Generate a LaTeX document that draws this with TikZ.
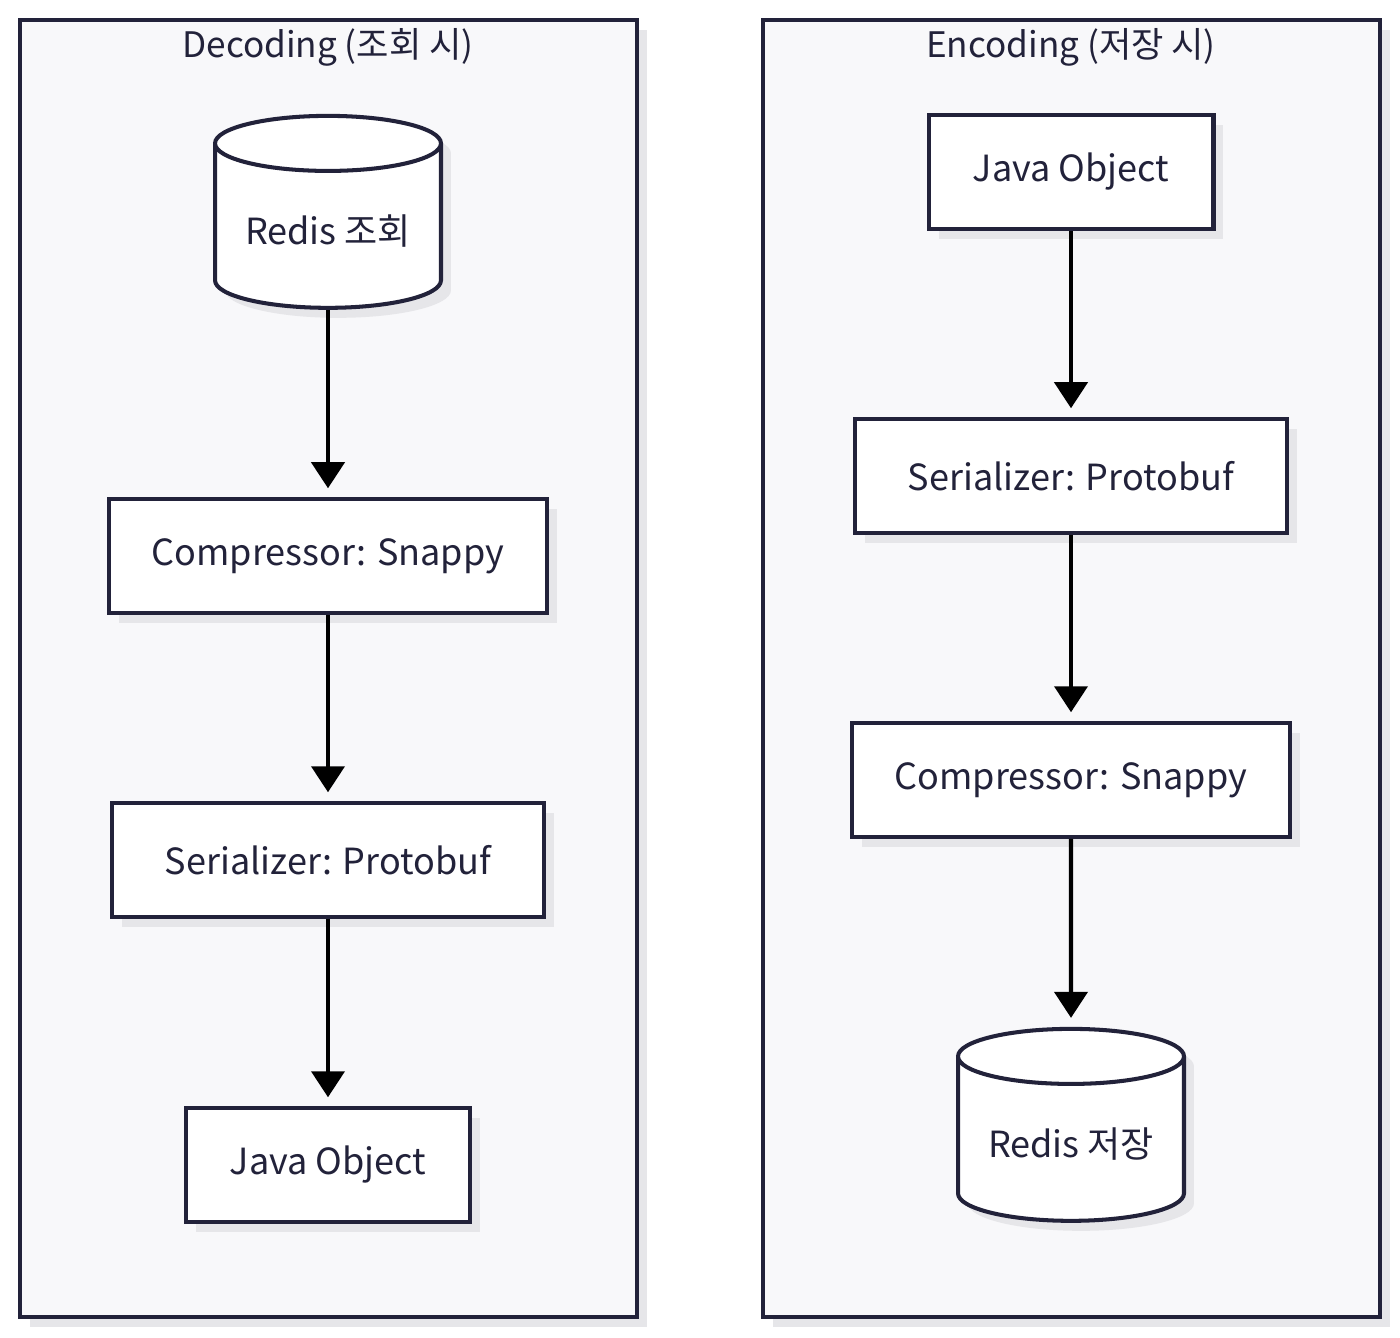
\documentclass[tikz,border=0pt]{standalone}
\usepackage{fontspec}
\setmainfont{Noto Sans CJK KR}
\usetikzlibrary{shapes.geometric,arrows.meta,shadows}

\definecolor{inkblue}{HTML}{22223A}
\definecolor{panelgray}{HTML}{F8F8FA}
\definecolor{shadowgray}{HTML}{E6E6E9}

\tikzset{
  softshadow/.style={drop shadow={shadow xshift=0.2cm, shadow yshift=-0.2cm, fill=shadowgray, opacity=1}},
  panel/.style={draw=inkblue, line width=2.3pt, fill=panelgray, softshadow},
  paneltitle/.style={text=inkblue, font=\fontsize{20}{24}\selectfont},
  stage/.style={rectangle, draw=inkblue, line width=2.3pt, fill=white, softshadow,
    text=inkblue, font=\fontsize{20.5}{24}\selectfont, minimum height=2.27cm},
  store/.style={cylinder, shape border rotate=90, aspect=0.31, draw=inkblue, line width=2.3pt,
    fill=white, softshadow, text=inkblue, font=\fontsize{20.5}{24}\selectfont,
    minimum width=4.52cm, minimum height=3.84cm},
  flow/.style={-{Triangle[length=0.52cm,width=0.66cm]}, line width=2.3pt, shorten >=0.18cm}
}

\begin{document}
\begin{tikzpicture}[x=0.02cm, y=-0.02cm]
  \useasboundingbox (0,0) rectangle (1400,1338);

  % panels
  \draw[panel] (20,20) rectangle (637,1317);
  \draw[panel] (763,20) rectangle (1380,1317);
  \node[paneltitle] (dectitle) at (328,47) {Decoding (조회 시)};
  \node[paneltitle] (enctitle) at (1071,47) {Encoding (저장 시)};

  % decoding
  \node[store] (decredis) at (328,231) {Redis 조회};
  \node[stage, minimum width=8.78cm] (deccomp) at (328,556) {Compressor: Snappy};
  \node[stage, minimum width=8.64cm] (decser) at (328,860) {Serializer: Protobuf};
  \node[stage, minimum width=5.7cm] (decjava) at (328,1165) {Java Object};

  % encoding
  \node[stage, minimum width=5.7cm] (encjava) at (1071,172) {Java Object};
  \node[stage, minimum width=8.64cm] (encser) at (1071,476) {Serializer: Protobuf};
  \node[stage, minimum width=8.78cm] (enccomp) at (1071,780) {Compressor: Snappy};
  \node[store] (encredis) at (1071,1144) {Redis 저장};

  \draw[flow] (decredis) -- (deccomp);
  \draw[flow] (deccomp) -- (decser);
  \draw[flow] (decser) -- (decjava);
  \draw[flow] (encjava) -- (encser);
  \draw[flow] (encser) -- (enccomp);
  \draw[flow] (enccomp) -- (encredis);
\end{tikzpicture}
\end{document}
